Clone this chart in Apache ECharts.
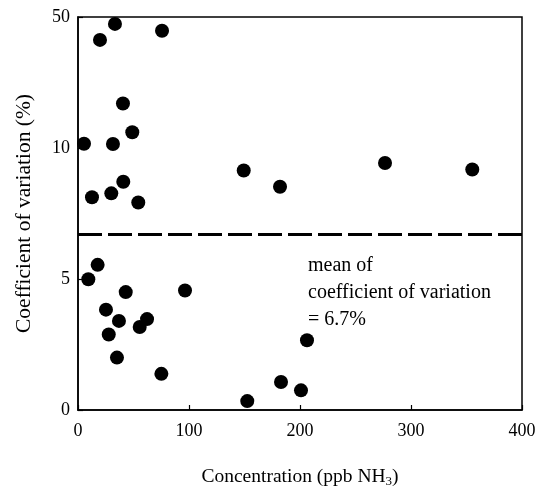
<!DOCTYPE html>
<html>
<head>
<meta charset="utf-8">
<script src="https://cdn.jsdelivr.net/npm/echarts@6/dist/echarts.min.js"></script>
<style>html,body{margin:0;padding:0;background:#fff;}#c{width:543px;height:493px;}</style>
</head>
<body>
<div id="c"></div>
<script>
// Concentration (ppb NH3)
var concentration = [19.8, 33.3, 75.7, 40.5, 5.4, 31.5, 48.9, 12.6, 30.0, 40.8, 54.3, 149.3, 182.0, 276.6, 355.2,
                     9.3, 17.7, 25.2, 43.0, 36.9, 27.7, 35.1, 55.6, 62.2, 96.4, 75.1, 152.5, 182.9, 200.9, 206.3];
// Coefficient of variation (%)
var cv = [43.0, 47.9, 45.8, 23.6, 11.3, 11.2, 14.8, 8.12, 8.27, 8.71, 7.92, 9.14, 8.52, 9.43, 9.18,
          4.99, 5.54, 3.83, 4.5, 3.4, 2.88, 2.0, 3.17, 3.47, 4.56, 1.38, 0.34, 1.07, 0.75, 2.66];
var meanCV = 6.7;
var yTicks = [0, 5, 10, 50];
var xTicks = [0, 100, 200, 300, 400];

// piecewise-linear axis: each tick interval is one axis unit
function toAxis(v) {
  for (var i = 0; i < yTicks.length - 1; i++) {
    if (v <= yTicks[i + 1] || i === yTicks.length - 2) {
      return i + (v - yTicks[i]) / (yTicks[i + 1] - yTicks[i]);
    }
  }
}
var data = concentration.map(function (x, i) { return [x, toAxis(cv[i])]; });

var font = 'Liberation Serif';
var chart = echarts.init(document.getElementById('c'), null, {renderer: 'canvas'});
chart.setOption({
  animation: false,
  backgroundColor: '#fff',
  grid: {left: 78, right: 21, top: 17, bottom: 78, show: true, borderColor: '#000', borderWidth: 1.5, backgroundColor: 'transparent'},
  xAxis: {
    type: 'value', min: xTicks[0], max: xTicks[xTicks.length - 1], interval: 100,
    name: '{n|Concentration (ppb NH}{s|3}{n|)}',
    nameLocation: 'middle', nameGap: 56,
    nameTextStyle: {rich: {
      n: {fontFamily: font, fontSize: 19.5, color: '#000'},
      s: {fontFamily: font, fontSize: 13, color: '#000', verticalAlign: 'bottom', padding: [9, 0, 0, 0]}
    }},
    axisLine: {lineStyle: {color: '#000', width: 1.5}},
    axisTick: {inside: true, length: 5, lineStyle: {color: '#000', width: 1.2}},
    axisLabel: {fontFamily: font, fontSize: 18, color: '#000', margin: 12},
    splitLine: {show: false}
  },
  yAxis: {
    type: 'value', min: 0, max: yTicks.length - 1, interval: 1,
    name: 'Coefficient of variation (%)',
    nameLocation: 'middle', nameGap: 43,
    nameTextStyle: {fontFamily: font, fontSize: 21.5, color: '#000'},
    axisLine: {lineStyle: {color: '#000', width: 1.5}},
    axisTick: {inside: true, length: 5, lineStyle: {color: '#000', width: 1.2}},
    axisLabel: {fontFamily: font, fontSize: 18, color: '#000', margin: 8,
      formatter: function (v) { return String(yTicks[Math.round(v)]); }},
    splitLine: {show: false}
  },
  series: [{
    type: 'scatter',
    data: data,
    symbol: 'circle',
    symbolSize: 14,
    itemStyle: {color: '#000', opacity: 1},
    markLine: {
      silent: true,
      symbol: 'none',
      label: {show: false},
      lineStyle: {color: '#000', width: 3, type: [24, 6]},
      data: [{yAxis: toAxis(meanCV)}]
    }
  }],
  graphic: [{
    type: 'text', left: 308, top: 252,
    style: {text: 'mean of\ncoefficient of variation\n= ' + meanCV + '%', fontFamily: font, fontSize: 20, lineHeight: 27, fill: '#000'}
  }]
});
</script>
</body>
</html>
